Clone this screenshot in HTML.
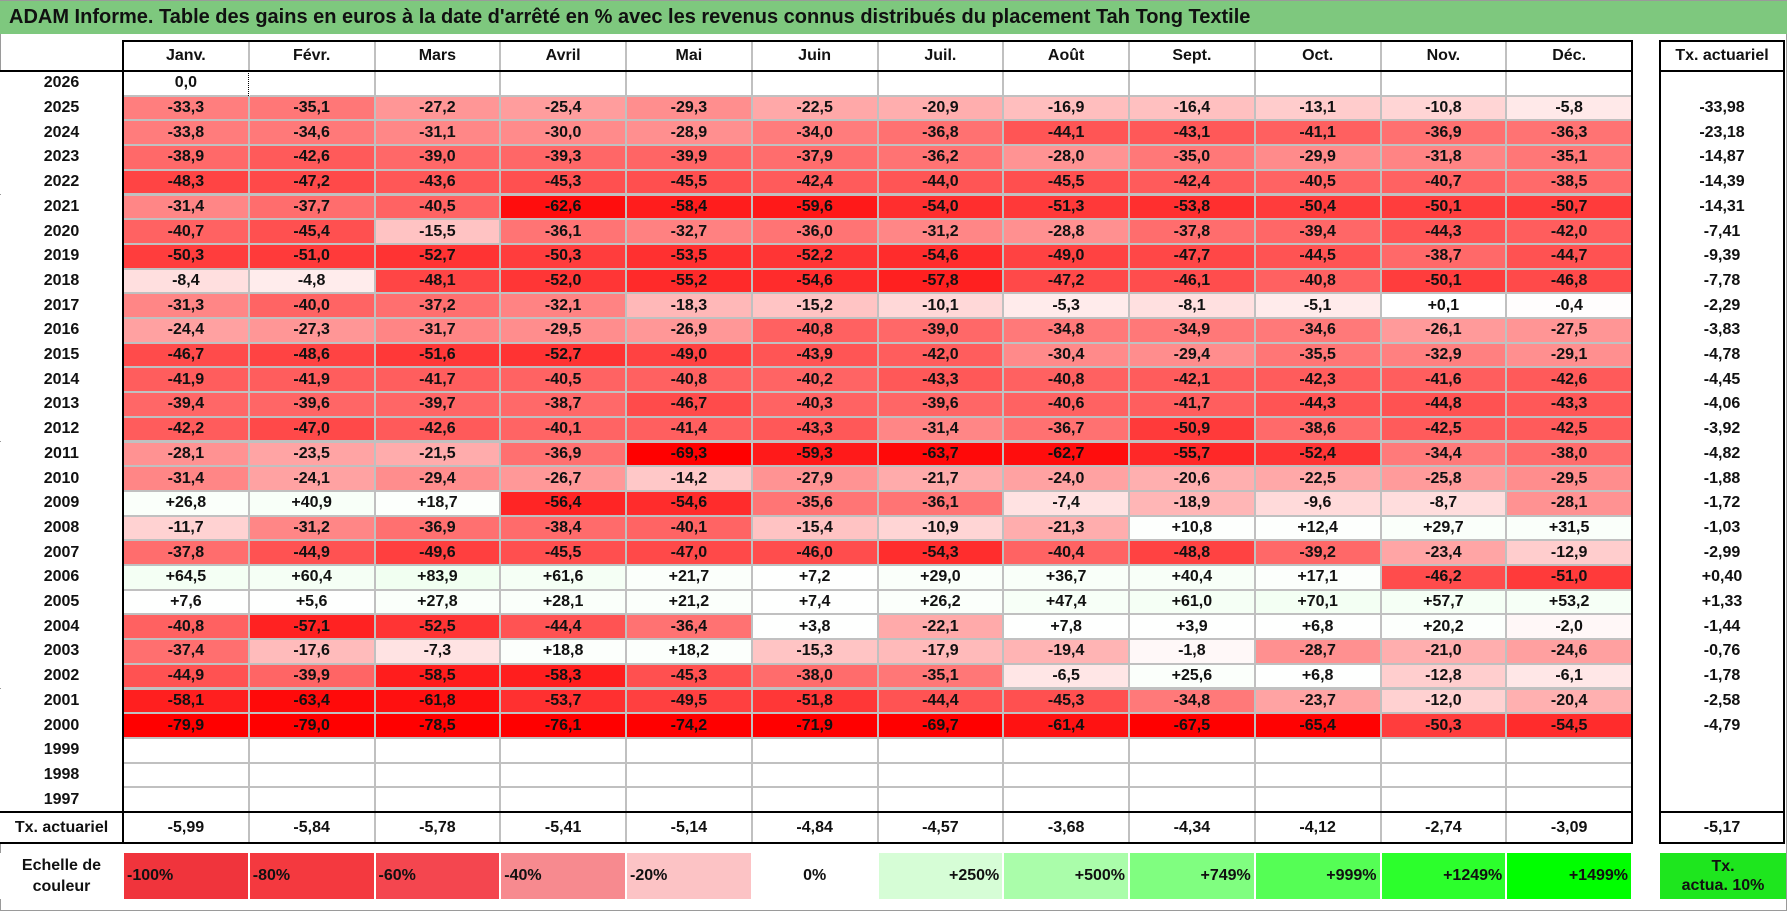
<!DOCTYPE html>
<html><head><meta charset="utf-8">
<style>
body{margin:0;width:1787px;height:912px;overflow:hidden;background:#fff;font-family:"Liberation Sans",sans-serif;font-weight:bold;color:#111;}
#page{position:absolute;left:0;top:0;width:1785px;height:909px;border:1px solid #9a9a9a;}
.abs{position:absolute;box-sizing:border-box;}
.title{left:0;top:1px;width:1787px;height:33px;background:#7ec87e;font-size:20px;line-height:33px;padding-left:9px;}
.cell{display:flex;align-items:center;justify-content:center;font-size:16px;}
</style></head><body>
<div id="page"></div>
<div class="abs title">ADAM Informe. Table des gains en euros à la date d'arrêté en % avec les revenus connus distribués du placement Tah Tong Textile</div>
<div id="root"></div>
<script>
const months=["Janv.","Févr.","Mars","Avril","Mai","Juin","Juil.","Août","Sept.","Oct.","Nov.","Déc."];
const years=[2026,2025,2024,2023,2022,2021,2020,2019,2018,2017,2016,2015,2014,2013,2012,2011,2010,2009,2008,2007,2006,2005,2004,2003,2002,2001,2000,1999,1998,1997];
const r2026=[0.0,null,null,null,null,null,null,null,null,null,null,null];
const r2025=[-33.3,-35.1,-27.2,-25.4,-29.3,-22.5,-20.9,-16.9,-16.4,-13.1,-10.8,-5.8];
const r2024=[-33.8,-34.6,-31.1,-30.0,-28.9,-34.0,-36.8,-44.1,-43.1,-41.1,-36.9,-36.3];
const r2023=[-38.9,-42.6,-39.0,-39.3,-39.9,-37.9,-36.2,-28.0,-35.0,-29.9,-31.8,-35.1];
const r2022=[-48.3,-47.2,-43.6,-45.3,-45.5,-42.4,-44.0,-45.5,-42.4,-40.5,-40.7,-38.5];
const r2021=[-31.4,-37.7,-40.5,-62.6,-58.4,-59.6,-54.0,-51.3,-53.8,-50.4,-50.1,-50.7];
const r2020=[-40.7,-45.4,-15.5,-36.1,-32.7,-36.0,-31.2,-28.8,-37.8,-39.4,-44.3,-42.0];
const r2019=[-50.3,-51.0,-52.7,-50.3,-53.5,-52.2,-54.6,-49.0,-47.7,-44.5,-38.7,-44.7];
const r2018=[-8.4,-4.8,-48.1,-52.0,-55.2,-54.6,-57.8,-47.2,-46.1,-40.8,-50.1,-46.8];
const r2017=[-31.3,-40.0,-37.2,-32.1,-18.3,-15.2,-10.1,-5.3,-8.1,-5.1,0.1,-0.4];
const r2016=[-24.4,-27.3,-31.7,-29.5,-26.9,-40.8,-39.0,-34.8,-34.9,-34.6,-26.1,-27.5];
const r2015=[-46.7,-48.6,-51.6,-52.7,-49.0,-43.9,-42.0,-30.4,-29.4,-35.5,-32.9,-29.1];
const r2014=[-41.9,-41.9,-41.7,-40.5,-40.8,-40.2,-43.3,-40.8,-42.1,-42.3,-41.6,-42.6];
const r2013=[-39.4,-39.6,-39.7,-38.7,-46.7,-40.3,-39.6,-40.6,-41.7,-44.3,-44.8,-43.3];
const r2012=[-42.2,-47.0,-42.6,-40.1,-41.4,-43.3,-31.4,-36.7,-50.9,-38.6,-42.5,-42.5];
const r2011=[-28.1,-23.5,-21.5,-36.9,-69.3,-59.3,-63.7,-62.7,-55.7,-52.4,-34.4,-38.0];
const r2010=[-31.4,-24.1,-29.4,-26.7,-14.2,-27.9,-21.7,-24.0,-20.6,-22.5,-25.8,-29.5];
const r2009=[26.8,40.9,18.7,-56.4,-54.6,-35.6,-36.1,-7.4,-18.9,-9.6,-8.7,-28.1];
const r2008=[-11.7,-31.2,-36.9,-38.4,-40.1,-15.4,-10.9,-21.3,10.8,12.4,29.7,31.5];
const r2007=[-37.8,-44.9,-49.6,-45.5,-47.0,-46.0,-54.3,-40.4,-48.8,-39.2,-23.4,-12.9];
const r2006=[64.5,60.4,83.9,61.6,21.7,7.2,29.0,36.7,40.4,17.1,-46.2,-51.0];
const r2005=[7.6,5.6,27.8,28.1,21.2,7.4,26.2,47.4,61.0,70.1,57.7,53.2];
const r2004=[-40.8,-57.1,-52.5,-44.4,-36.4,3.8,-22.1,7.8,3.9,6.8,20.2,-2.0];
const r2003=[-37.4,-17.6,-7.3,18.8,18.2,-15.3,-17.9,-19.4,-1.8,-28.7,-21.0,-24.6];
const r2002=[-44.9,-39.9,-58.5,-58.3,-45.3,-38.0,-35.1,-6.5,25.6,6.8,-12.8,-6.1];
const r2001=[-58.1,-63.4,-61.8,-53.7,-49.5,-51.8,-44.4,-45.3,-34.8,-23.7,-12.0,-20.4];
const r2000=[-79.9,-79.0,-78.5,-76.1,-74.2,-71.9,-69.7,-61.4,-67.5,-65.4,-50.3,-54.5];
const rEmpty=[null,null,null,null,null,null,null,null,null,null,null,null];
const rows=[r2026,r2025,r2024,r2023,r2022,r2021,r2020,r2019,r2018,r2017,r2016,r2015,r2014,r2013,r2012,r2011,r2010,r2009,r2008,r2007,r2006,r2005,r2004,r2003,r2002,r2001,r2000,rEmpty,rEmpty,rEmpty];
const yearTx=["","-33,98","-23,18","-14,87","-14,39","-14,31","-7,41","-9,39","-7,78","-2,29","-3,83","-4,78","-4,45","-4,06","-3,92","-4,82","-1,88","-1,72","-1,03","-2,99","+0,40","+1,33","-1,44","-0,76","-1,78","-2,58","-4,79","","",""];
const monthTx=["-5,99","-5,84","-5,78","-5,41","-5,14","-4,84","-4,57","-3,68","-4,34","-4,12","-2,74","-3,09"];
const totalTx="-5,17";
const legendLabels=["-100%","-80%","-60%","-40%","-20%","0%","+250%","+500%","+749%","+999%","+1249%","+1499%"];
const legendColors=["#f0343c","#f4393f","#f4464f","#f78a8f","#fcc3c5","#ffffff","#d6fdd6","#aafdaa","#80fe80","#55fe55","#2cff2c","#00ff00"];

const root=document.getElementById('root');
const X0=123,CW=125.75,HT=41,HB=71,RH=24.7;
const TX0=1660,TX1=1784;
function colX(i){return X0+i*CW;}
function rowY(j){return HB+j*RH;}
function color(v){
  if(v===null)return '#fff';
  if(v<0){const t=Math.min(1,-v/66);const c=Math.round(255*(1-t));return `rgb(255,${c},${c})`;}
  const t=Math.min(1,v/1500);const c=Math.round(255*(1-t));return `rgb(${c},255,${c})`;
}
function fmt(v){if(v===null)return '';let s=Math.abs(v).toFixed(1).replace('.',',');if(v>0)return '+'+s;if(v<0)return '-'+s;return s;}
function box(x,y,w,h,bg,txt,cls){
  const d=document.createElement('div');
  d.className='abs '+(cls===undefined?'cell':cls);
  d.style.left=x+'px';d.style.top=y+'px';d.style.width=w+'px';d.style.height=h+'px';
  if(bg)d.style.background=bg;
  if(txt!==undefined)d.textContent=txt;
  root.appendChild(d);return d;
}
const g=box(X0,HT,12*CW,843-HT,'#c0c0c0',undefined,'');


months.forEach((m,i)=>{
  const d=box(colX(i)+1,HT+1,CW-2,HB-HT-2,'#fff',m);
  
  
});
const th=box(TX0,HT,TX1-TX0,HB-HT,'#fff','Tx. actuariel');


years.forEach((y,j)=>{
  const l=box(0,rowY(j),X0,RH,'#fff',String(y));
  
  
  rows[j].forEach((v,i)=>{
    const d=box(colX(i)+1,rowY(j)+1,CW-2,RH-2,color(v),fmt(v));
    
    
  });
  const t=box(TX0,rowY(j),TX1-TX0,RH,'#fff',yearTx[j]);
  
  
});
const dot=box(colX(1)-1,rowY(0),2,RH,'#fff','','');
dot.style.borderLeft='1px dotted #000';


const yT=812;
const tl=box(0,yT,X0,843-yT,'#fff','Tx. actuariel');


monthTx.forEach((s,i)=>{
  const d=box(colX(i)+1,yT,CW-2,843-yT,'#fff',s);
  
  
});
const tt=box(TX0,yT,TX1-TX0,843-yT,'#fff',totalTx);


function ln(x,y,w,h,name){const d=box(x,y,w,h,'#000',undefined,'');}
ln(X0-1,HT-1,12*CW+2,2,'table-top-line');
ln(X0-1,HT-1,2,843-HT+2,'table-left-line');
ln(X0+12*CW-1,HT-1,2,843-HT+2,'table-right-line');
ln(0,HB-1,X0+12*CW+1,2,'header-bottom-line');
ln(0,yT-1,X0+12*CW+1,2,'tx-top-line');
ln(0,843-1,X0+12*CW+1,2,'table-bottom-line');
ln(TX0-1,HT-1,TX1-TX0+2,2,'txbox-top');
ln(TX0-1,HT-1,2,843-HT+2,'txbox-left');
ln(TX1-1,HT-1,2,843-HT+2,'txbox-right');
ln(TX0-1,HB-1,TX1-TX0+2,2,'txbox-header-line');
ln(TX0-1,yT-1,TX1-TX0+2,2,'txbox-tx-line');
ln(TX0-1,843-1,TX1-TX0+2,2,'txbox-bottom');
const LY=853,LH=46;
const ll=box(0,LY,X0,LH,'#fff','');
ll.innerHTML='Echelle de<br>couleur';ll.style.textAlign='center';ll.style.lineHeight='21px';


legendLabels.forEach((s,i)=>{
  const d=box(colX(i)+1,LY,CW-2,LH,legendColors[i],s);
  d.style.justifyContent=i<5?'flex-start':(i===5?'center':'flex-end');
  d.style.padding='0 3px';
  
  
});
const lt=box(TX0,LY,TX1-TX0+2,LH,'#1ee61e','');
lt.innerHTML='Tx.<br>actua. 10%';lt.style.textAlign='center';lt.style.lineHeight='19px';


</script>
</body></html>
